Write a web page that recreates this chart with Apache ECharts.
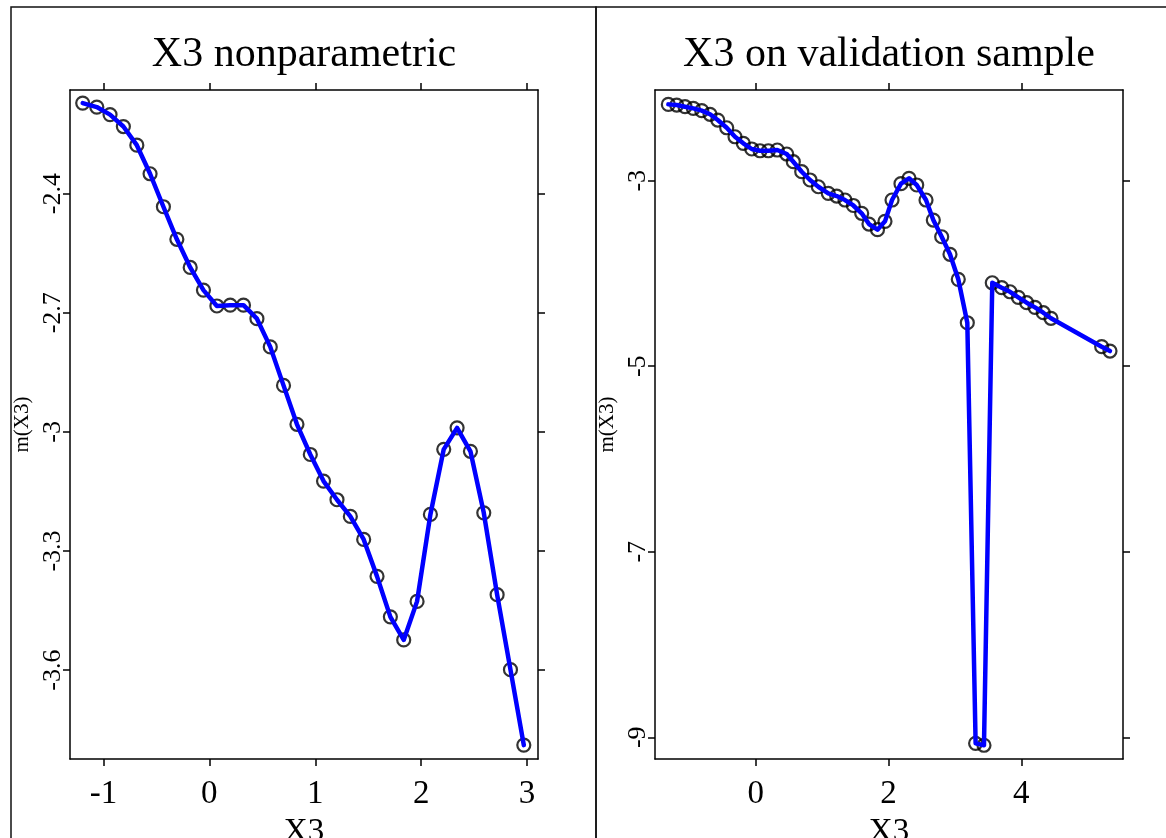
<!DOCTYPE html>
<html>
<head>
<meta charset="utf-8">
<script src="https://cdn.jsdelivr.net/npm/echarts@6/dist/echarts.min.js"></script>
<style>
  html, body { margin: 0; padding: 0; background: #fff; }
  #chart { width: 1166px; height: 838px; }
</style>
</head>
<body>
<div id="chart"></div>
<script>
// Estimated partial effect m(X3): in-sample fit (left) and validation sample (right)
const leftX = [-1.196, -1.063, -0.938, -0.812, -0.685, -0.560, -0.434, -0.307, -0.181, -0.056,
               0.071, 0.197, 0.322, 0.449, 0.575, 0.700, 0.827, 0.953, 1.078, 1.205,
               1.331, 1.457, 1.583, 1.709, 1.835, 1.961, 2.087, 2.213, 2.339, 2.465,
               2.591, 2.717, 2.843, 2.969];
const leftY = [-2.172, -2.182, -2.201, -2.231, -2.278, -2.350, -2.433, -2.515, -2.586, -2.643,
               -2.683, -2.681, -2.681, -2.715, -2.786, -2.883, -2.981, -3.057, -3.124, -3.171,
               -3.213, -3.271, -3.364, -3.466, -3.524, -3.427, -3.208, -3.044, -2.990, -3.049,
               -3.204, -3.410, -3.599, -3.789];

const rightX = [-1.316, -1.190, -1.065, -0.940, -0.813, -0.688, -0.572, -0.437, -0.312, -0.187,
                -0.060, 0.065, 0.190, 0.325, 0.467, 0.566, 0.693, 0.818, 0.943, 1.093,
                1.220, 1.345, 1.470, 1.596, 1.706, 1.834, 1.947, 2.053, 2.188, 2.309,
                2.425, 2.565, 2.675, 2.801, 2.926, 3.051, 3.187, 3.312, 3.438, 3.563,
                3.705, 3.830, 3.955, 4.081, 4.206, 4.331, 4.447, 5.211, 5.336];
const rightY = [-2.177, -2.184, -2.202, -2.220, -2.245, -2.284, -2.346, -2.429, -2.526, -2.597,
                -2.658, -2.677, -2.677, -2.669, -2.712, -2.795, -2.903, -2.992, -3.065, -3.136,
                -3.165, -3.208, -3.267, -3.351, -3.467, -3.528, -3.438, -3.208, -3.032, -2.974,
                -3.046, -3.208, -3.424, -3.604, -3.793, -4.063, -4.531, -9.065, -9.086, -4.100,
                -4.153, -4.197, -4.257, -4.315, -4.365, -4.423, -4.483, -4.789, -4.836];

const leftXTicks = [-1, 0, 1, 2, 3];
const leftYTicks = [-2.4, -2.7, -3, -3.3, -3.6];
const rightXTicks = [0, 2, 4];
const rightYTicks = [-3, -5, -7, -9];

const titles = ['X3 nonparametric', 'X3 on validation sample'];
const xName = 'X3';
const yName = 'm(X3)';

const FONT = '"Liberation Serif", "Times New Roman", serif';
const INK = '#000';

const pairs = (xs, ys) => xs.map((x, i) => [x, ys[i]]);

const panels = [
  { left: 70, xMin: -1.316, xMax: 3.103, yMin: -3.824, yMax: -2.139,
    xTicks: leftXTicks, yTicks: leftYTicks, data: pairs(leftX, leftY) },
  { left: 655, xMin: -1.517, xMax: 5.532, yMin: -9.234, yMax: -2.022,
    xTicks: rightXTicks, yTicks: rightYTicks, data: pairs(rightX, rightY) }
];

const GRID_TOP = 90, GRID_W = 468, GRID_H = 669;

const lineStyle = { color: INK, width: 1.5 };

const grid = [], xAxis = [], yAxis = [], series = [], graphic = [];

panels.forEach((p, i) => {
  grid.push({ left: p.left, top: GRID_TOP, width: GRID_W, height: GRID_H, show: false,
              containLabel: false, outerBoundsMode: 'none' });

  const xBase = {
    gridIndex: i, type: 'value', min: p.xMin, max: p.xMax,
    axisLine: { show: true, onZero: false, lineStyle },
    axisTick: { show: true, length: 7, customValues: p.xTicks, lineStyle },
    splitLine: { show: false }
  };
  xAxis.push(Object.assign({}, xBase, {
    position: 'bottom',
    axisLabel: { customValues: p.xTicks, color: INK, fontFamily: FONT, fontSize: 33, margin: 19 },
    name: xName, nameLocation: 'middle', nameGap: 57,
    nameTextStyle: { color: INK, fontFamily: FONT, fontSize: 33 }
  }));
  xAxis.push(Object.assign({}, xBase, { position: 'top', axisLabel: { show: false } }));

  const yBase = {
    gridIndex: i, type: 'value', min: p.yMin, max: p.yMax,
    axisLine: { show: true, onZero: false, lineStyle },
    axisTick: { show: true, length: 7, customValues: p.yTicks, lineStyle },
    splitLine: { show: false }
  };
  yAxis.push(Object.assign({}, yBase, {
    position: 'left',
    axisLabel: { customValues: p.yTicks, rotate: 90, color: INK, fontFamily: FONT, fontSize: 26, margin: 4 },
    name: yName, nameLocation: 'middle', nameRotate: 90, nameGap: 37,
    nameTextStyle: { color: INK, fontFamily: FONT, fontSize: 21 }
  }));
  yAxis.push(Object.assign({}, yBase, { position: 'right', axisLabel: { show: false } }));

  // open circles underneath, blue connecting line on top
  series.push({
    type: 'scatter', xAxisIndex: 2 * i, yAxisIndex: 2 * i, data: p.data,
    symbol: 'circle', symbolSize: 13, z: 2,
    itemStyle: { color: 'rgba(0,0,0,0)', borderColor: INK, borderWidth: 2.2 }
  });
  series.push({
    type: 'line', xAxisIndex: 2 * i, yAxisIndex: 2 * i, data: p.data,
    showSymbol: false, z: 3,
    lineStyle: { color: '#0000ff', width: 4.5, cap: 'round', join: 'round' }
  });

  // panel frame and title
  graphic.push({
    type: 'rect', silent: true,
    shape: { x: 11 + 585 * i, y: 7, width: 585, height: 900 },
    style: { fill: null, stroke: '#111', lineWidth: 1.5 }
  });
  graphic.push({
    type: 'text', silent: true,
    x: p.left + GRID_W / 2, y: 34,
    style: { text: titles[i], font: '42px ' + FONT, fill: INK, textAlign: 'center', textVerticalAlign: 'top' }
  });
});

const chart = echarts.init(document.getElementById('chart'), null, { renderer: 'canvas' });
chart.setOption({
  animation: false,
  backgroundColor: '#fff',
  grid, xAxis, yAxis, series, graphic
});
</script>
</body>
</html>
